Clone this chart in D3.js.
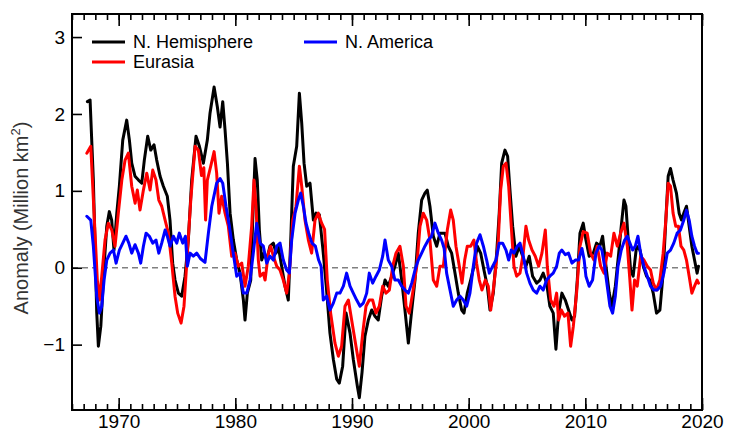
<!DOCTYPE html>
<html><head><meta charset="utf-8">
<script src="https://cdn.jsdelivr.net/npm/d3@7"></script>
<style>
html,body{margin:0;padding:0;background:#fff;}
svg{display:block;font-family:"Liberation Sans",Arial,sans-serif;}
</style></head>
<body>
<svg id="chart" width="733" height="437"></svg>
<script>
// ---- data ----
const nhYears = [1967.32,1967.55,1967.83,1968.12,1968.26,1968.47,1968.75,1968.98,1969.2,1969.4,1969.6,1969.84,1970.06,1970.35,1970.69,1970.92,1971.12,1971.4,1971.7,1971.98,1972.2,1972.49,1972.75,1973.03,1973.26,1973.55,1973.83,1974.17,1974.4,1974.63,1974.83,1975.12,1975.4,1975.69,1975.97,1976.26,1976.63,1976.92,1977.26,1977.6,1977.83,1978.18,1978.46,1978.69,1978.92,1979.12,1979.32,1979.55,1979.83,1980.12,1980.4,1980.69,1980.83,1981.03,1981.32,1981.49,1981.69,1981.88,1982.06,1982.26,1982.46,1982.69,1982.97,1983.26,1983.49,1983.68,1983.97,1984.26,1984.54,1984.75,1984.97,1985.26,1985.49,1985.69,1985.89,1986.12,1986.4,1986.69,1986.92,1987.2,1987.5,1987.8,1988.11,1988.4,1988.69,1988.91,1989.2,1989.49,1989.83,1990.11,1990.46,1990.63,1990.86,1991.11,1991.4,1991.69,1991.97,1992.25,1992.54,1992.83,1993.11,1993.4,1993.68,1993.97,1994.26,1994.54,1994.83,1995.12,1995.4,1995.68,1995.97,1996.25,1996.45,1996.68,1996.97,1997.26,1997.54,1997.97,1998.25,1998.54,1998.83,1999.11,1999.4,1999.6,1999.88,2000.17,2000.45,2000.74,2001.03,2001.31,2001.6,2001.83,2002.11,2002.4,2002.62,2002.83,2003.11,2003.34,2003.54,2003.77,2004.05,2004.34,2004.63,2004.91,2005.19,2005.48,2005.83,2006.11,2006.39,2006.68,2006.96,2007.25,2007.48,2007.71,2007.99,2008.28,2008.56,2008.85,2009.08,2009.31,2009.54,2009.82,2010.05,2010.33,2010.68,2010.96,2011.25,2011.48,2011.77,2012.05,2012.28,2012.57,2012.86,2013.08,2013.31,2013.48,2013.68,2013.88,2014.1,2014.39,2014.68,2014.97,2015.25,2015.53,2015.82,2016.1,2016.39,2016.67,2016.9,2017.1,2017.3,2017.52,2017.81,2018.04,2018.24,2018.44,2018.67,2018.9,2019.13,2019.36,2019.58,2019.7];
const nhValues = [2.16,2.18,1.14,-0.58,-1.02,-0.76,0.02,0.54,0.73,0.62,0.23,0.71,1.06,1.66,1.92,1.66,1.36,1.19,1.14,1.10,1.40,1.71,1.53,1.60,1.40,1.19,1.06,0.93,0.62,0.06,-0.16,-0.33,-0.37,-0.11,0.36,1.14,1.71,1.58,1.36,1.66,2.01,2.35,2.09,1.83,2.16,1.79,1.36,0.71,0.36,0.10,-0.07,-0.42,-0.68,-0.33,-0.16,0.62,1.42,1.14,0.49,0.10,0.19,0.10,0.28,0.32,0.19,0.28,0.02,-0.24,-0.42,0.36,1.32,1.58,2.27,1.88,1.36,1.06,1.10,0.62,0.71,0.69,0.25,-0.25,-0.85,-1.19,-1.45,-1.50,-1.28,-0.59,-0.85,-1.19,-1.54,-1.69,-1.36,-0.89,-0.68,-0.55,-0.63,-0.68,-0.37,-0.16,-0.24,-0.11,0.02,0.19,-0.16,-0.55,-0.98,-0.55,-0.16,0.45,0.88,0.97,1.01,0.80,0.41,0.28,0.45,0.45,0.28,0.19,-0.07,-0.33,-0.55,-0.59,-0.33,-0.16,0.02,0.28,0.19,-0.03,-0.24,-0.55,-0.33,0.19,0.71,1.36,1.53,1.45,1.01,0.54,0.15,0.28,0.15,0.02,0.15,-0.11,-0.20,-0.16,-0.07,-0.20,-0.50,-0.59,-1.06,-0.59,-0.33,-0.42,-0.55,-0.68,-0.63,-0.16,0.45,0.58,0.36,0.15,0.19,0.32,0.28,0.41,0.02,-0.33,-0.50,-0.24,0.19,0.54,0.88,0.80,0.36,-0.03,-0.11,0.28,0.23,0.02,-0.11,-0.16,-0.33,-0.59,-0.55,-0.07,0.62,1.19,1.29,1.14,0.97,0.71,0.62,0.71,0.80,0.54,0.28,0.10,-0.07,0.02];

const euYears = [1967.27,1967.61,1967.89,1968.17,1968.35,1968.55,1968.83,1969.12,1969.41,1969.69,1969.97,1970.27,1970.55,1970.83,1971.12,1971.41,1971.6,1971.83,1972.12,1972.41,1972.69,1972.92,1973.2,1973.44,1973.69,1973.98,1974.26,1974.55,1974.83,1975.06,1975.35,1975.6,1975.89,1976.18,1976.55,1976.83,1977.1,1977.3,1977.45,1977.6,1977.89,1978.18,1978.4,1978.6,1978.83,1979.12,1979.4,1979.69,1979.97,1980.26,1980.55,1980.83,1981.11,1981.4,1981.6,1981.77,1981.97,1982.12,1982.4,1982.55,1982.83,1983.03,1983.26,1983.55,1983.83,1984.11,1984.4,1984.63,1984.92,1985.2,1985.49,1985.69,1985.97,1986.26,1986.54,1986.83,1987.11,1987.4,1987.65,1987.88,1988.17,1988.54,1988.83,1989.11,1989.4,1989.69,1989.97,1990.34,1990.63,1990.92,1991.2,1991.48,1991.77,1992.06,1992.34,1992.63,1992.91,1993.2,1993.49,1993.77,1994.11,1994.4,1994.63,1994.91,1995.2,1995.55,1995.83,1996.11,1996.4,1996.68,1996.97,1997.26,1997.54,1997.83,1998.17,1998.46,1998.68,1998.91,1999.2,1999.43,1999.66,1999.88,2000.17,2000.45,2000.68,2000.91,2001.14,2001.43,2001.68,2001.89,2002.11,2002.34,2002.54,2002.74,2002.97,2003.2,2003.43,2003.65,2003.88,2004.11,2004.4,2004.68,2004.91,2005.14,2005.43,2005.71,2006.0,2006.28,2006.57,2006.74,2007.03,2007.31,2007.54,2007.71,2007.94,2008.22,2008.51,2008.74,2008.97,2009.25,2009.54,2009.82,2010.16,2010.45,2010.74,2011.02,2011.31,2011.6,2011.88,2012.17,2012.45,2012.74,2013.02,2013.31,2013.6,2013.82,2014.0,2014.22,2014.45,2014.74,2015.02,2015.31,2015.59,2015.82,2016.1,2016.39,2016.67,2016.9,2017.1,2017.3,2017.52,2017.75,2017.98,2018.2,2018.44,2018.67,2018.9,2019.13,2019.36,2019.58,2019.7];
const euValues = [1.49,1.58,0.71,-0.16,-0.42,-0.11,0.36,0.58,0.49,0.28,0.71,1.14,1.40,1.49,1.06,0.84,1.01,0.75,1.01,1.23,1.01,1.27,1.14,0.88,0.80,0.62,0.45,0.06,-0.37,-0.59,-0.72,-0.50,0.19,0.88,1.58,1.53,1.20,1.30,0.62,1.14,1.32,1.51,1.23,0.71,0.93,0.71,0.54,0.15,0.19,0.02,0.06,-0.24,0.02,0.54,1.14,0.80,0.10,-0.11,-0.07,-0.16,0.19,0.28,0.15,0.02,-0.03,-0.16,-0.33,-0.07,0.62,0.80,1.32,1.06,0.62,0.36,0.19,0.62,0.71,0.58,0.50,-0.16,-0.59,-0.98,-1.15,-1.02,-0.50,-0.42,-0.68,-1.02,-1.28,-0.85,-0.50,-0.42,-0.42,-0.59,-0.50,-0.24,-0.33,-0.29,0.02,0.19,0.28,0.02,-0.50,-0.59,-0.33,0.02,0.54,0.71,0.62,0.36,-0.16,-0.24,0.02,0.02,0.49,0.75,0.62,0.28,0.02,-0.20,0.10,0.28,0.28,0.36,0.06,-0.16,-0.29,-0.16,-0.24,-0.55,-0.29,0.02,0.36,1.01,1.32,1.36,1.06,0.54,0.02,-0.11,-0.07,0.19,0.54,0.36,0.23,0.15,0.02,0.19,0.49,0.02,-0.42,-0.50,-0.33,-0.68,-0.55,-0.63,-0.59,-1.02,-0.76,-0.33,0.28,0.47,0.45,0.19,0.10,0.28,0.02,-0.07,0.19,0.15,0.45,0.28,0.45,0.58,0.28,-0.16,-0.55,-0.16,-0.24,0.15,0.10,0.02,-0.03,-0.20,-0.29,-0.16,0.19,0.62,1.10,1.06,0.71,0.54,0.54,0.28,0.23,0.10,-0.11,-0.33,-0.24,-0.16,-0.20];

const naYears = [1967.27,1967.61,1967.83,1968.12,1968.35,1968.55,1968.75,1968.98,1969.26,1969.55,1969.78,1970.06,1970.35,1970.63,1970.87,1971.12,1971.4,1971.69,1971.89,1972.12,1972.35,1972.63,1972.92,1973.2,1973.44,1973.69,1973.98,1974.17,1974.4,1974.69,1974.98,1975.2,1975.49,1975.72,1975.89,1976.12,1976.4,1976.69,1977.0,1977.4,1977.69,1977.98,1978.4,1978.69,1978.92,1979.2,1979.49,1979.78,1980.12,1980.4,1980.69,1980.98,1981.26,1981.54,1981.83,1982.12,1982.4,1982.69,1982.97,1983.26,1983.55,1983.83,1984.11,1984.4,1984.63,1984.83,1985.12,1985.4,1985.6,1985.83,1986.06,1986.29,1986.57,1986.86,1987.14,1987.35,1987.54,1987.83,1988.11,1988.4,1988.69,1988.97,1989.26,1989.54,1989.83,1990.11,1990.4,1990.69,1990.97,1991.26,1991.48,1991.77,1992.06,1992.34,1992.63,1992.83,1993.11,1993.4,1993.68,1993.97,1994.26,1994.54,1994.83,1995.12,1995.4,1995.68,1995.97,1996.25,1996.54,1996.82,1997.11,1997.4,1997.68,1997.9,1998.11,1998.4,1998.68,1998.97,1999.26,1999.54,1999.83,2000.11,2000.4,2000.68,2000.97,2001.26,2001.54,2001.77,2002.06,2002.34,2002.62,2002.91,2003.2,2003.43,2003.65,2003.88,2004.17,2004.4,2004.68,2004.97,2005.25,2005.54,2005.83,2006.11,2006.39,2006.68,2006.96,2007.25,2007.54,2007.77,2007.99,2008.28,2008.56,2008.85,2009.14,2009.42,2009.71,2009.9,2010.05,2010.33,2010.62,2010.91,2011.19,2011.42,2011.65,2011.88,2012.11,2012.34,2012.57,2012.8,2013.08,2013.37,2013.6,2013.82,2014.05,2014.28,2014.51,2014.74,2015.02,2015.31,2015.59,2015.88,2016.16,2016.45,2016.73,2017.02,2017.3,2017.58,2017.87,2018.15,2018.44,2018.67,2018.9,2019.13,2019.36,2019.58,2019.7];
const naValues = [0.67,0.62,0.28,-0.37,-0.59,-0.50,-0.16,0.10,0.19,0.23,0.06,0.23,0.32,0.41,0.32,0.19,0.30,0.19,0.06,0.28,0.45,0.41,0.32,0.36,0.19,0.32,0.49,0.41,0.28,0.41,0.32,0.45,0.32,0.41,0.02,0.19,0.15,0.19,0.12,0.07,0.45,0.80,1.10,1.16,1.10,0.80,0.54,0.23,-0.11,-0.07,-0.33,-0.33,-0.16,0.19,0.58,0.32,0.28,0.06,0.15,0.10,0.28,0.32,0.10,-0.03,-0.07,0.36,0.71,0.88,0.97,0.80,0.58,0.45,0.32,0.28,0.10,0.02,-0.42,-0.37,-0.55,-0.46,-0.33,-0.33,-0.24,-0.07,-0.24,-0.33,-0.42,-0.50,-0.46,-0.33,-0.07,-0.20,-0.11,-0.03,0.15,0.36,0.10,0.02,-0.16,-0.16,-0.24,-0.29,-0.33,-0.20,-0.03,0.10,0.19,0.28,0.36,0.41,0.58,0.45,0.36,0.25,-0.07,-0.29,-0.50,-0.42,-0.37,-0.42,-0.50,-0.33,0.02,0.32,0.43,0.28,0.10,-0.07,0.02,0.10,0.32,0.32,0.23,0.10,0.23,0.19,0.28,0.32,0.15,-0.07,-0.20,-0.29,-0.33,-0.24,-0.29,-0.16,-0.11,-0.07,0.02,0.19,0.23,0.17,0.19,0.06,0.10,0.10,0.25,0.10,-0.11,-0.24,-0.16,0.19,0.28,0.23,0.02,-0.24,-0.50,-0.59,-0.37,0.02,0.23,0.36,0.41,0.32,0.23,0.28,0.41,0.19,0.02,-0.11,-0.24,-0.29,-0.29,-0.24,-0.07,0.19,0.23,0.32,0.45,0.49,0.62,0.75,0.62,0.41,0.28,0.19,0.19];

const seriesNames = ["N. Hemisphere","Eurasia","N. America"];
const seriesColors = ["#000000","#ff0000","#0000ff"];
const xMajorTicks = [1970,1980,1990,2000,2010,2020];
const xMinorTicks = d3.range(1966,2021);
const yTicks = [-1,0,1,2,3];

// ---- layout ----
const svg = d3.select("#chart");
const L = 72, R = 702, T = 14, B = 410;
const x = d3.scaleLinear().domain([1966,2020]).range([L,R]);
const y = d3.scaleLinear().domain([-1.85,3.3]).range([B,T]);

// zero line
svg.append("line").attr("x1",L).attr("x2",R).attr("y1",y(0)).attr("y2",y(0))
  .attr("stroke","#808080").attr("stroke-width",1.6).attr("stroke-dasharray","6,4");

// lines
const series = [
  {years:nhYears, values:nhValues},
  {years:euYears, values:euValues},
  {years:naYears, values:naValues}
];
const line = d3.line().x(d=>x(d[0])).y(d=>y(d[1]));
const gLines = svg.append("g");
series.forEach((s,i)=>{
  const pts = s.years.map((yr,j)=>[yr,s.values[j]]);
  gLines.append("path").datum(pts).attr("d",line).attr("fill","none")
    .attr("stroke",seriesColors[i]).attr("stroke-width",3)
    .attr("stroke-linejoin","round").attr("stroke-linecap","round");
});

// axes
const tickFont = 19;
function styleAxis(g){
  g.select(".domain").remove();
  g.selectAll(".tick line").attr("stroke","#000").attr("stroke-width",1.6);
  g.selectAll(".tick text").attr("fill","#000").style("font-size",tickFont+"px").style("font-family","'Liberation Sans',Arial,sans-serif");
}
svg.append("g").attr("transform",`translate(0,${B})`)
  .call(d3.axisBottom(x).tickValues(xMinorTicks).tickSize(-6).tickFormat("")).call(styleAxis);
svg.append("g").attr("transform",`translate(0,${B})`)
  .call(d3.axisBottom(x).tickValues(xMajorTicks).tickSize(-12).tickPadding(5).tickFormat(d3.format("d"))).call(styleAxis);
svg.append("g").attr("transform",`translate(0,${T})`)
  .call(d3.axisTop(x).tickValues(xMinorTicks).tickSize(-6).tickFormat("")).call(styleAxis);
svg.append("g").attr("transform",`translate(0,${T})`)
  .call(d3.axisTop(x).tickValues(xMajorTicks).tickSize(-12).tickFormat("")).call(styleAxis);
svg.append("g").attr("transform",`translate(${L},0)`)
  .call(d3.axisLeft(y).tickValues(yTicks).tickSize(-10).tickPadding(7).tickFormat(d=>d<0?"\u2212"+Math.abs(d):d)).call(styleAxis);

// frame
svg.append("rect").attr("x",L).attr("y",T).attr("width",R-L).attr("height",B-T)
  .attr("fill","none").attr("stroke","#000").attr("stroke-width",2);

// y title
const yt = svg.append("text").attr("transform",`translate(28,${(T+B)/2+6}) rotate(-90)`)
  .attr("text-anchor","middle").style("font-size","20px").attr("fill","#333");
yt.append("tspan").text("Anomaly (Million km");
yt.append("tspan").attr("dy",-8).style("font-size","13px").text("2");
yt.append("tspan").attr("dy",8).text(")");

// legend
const legend = [
  {name:seriesNames[0], color:seriesColors[0], lx:92, ly:42},
  {name:seriesNames[1], color:seriesColors[1], lx:92, ly:62},
  {name:seriesNames[2], color:seriesColors[2], lx:304, ly:42}
];
legend.forEach(d=>{
  svg.append("line").attr("x1",d.lx).attr("x2",d.lx+33).attr("y1",d.ly).attr("y2",d.ly)
    .attr("stroke",d.color).attr("stroke-width",3);
  svg.append("text").attr("x",d.lx+41).attr("y",d.ly+6).text(d.name)
    .style("font-size","18px").attr("fill","#000");
});
</script>
</body></html>
